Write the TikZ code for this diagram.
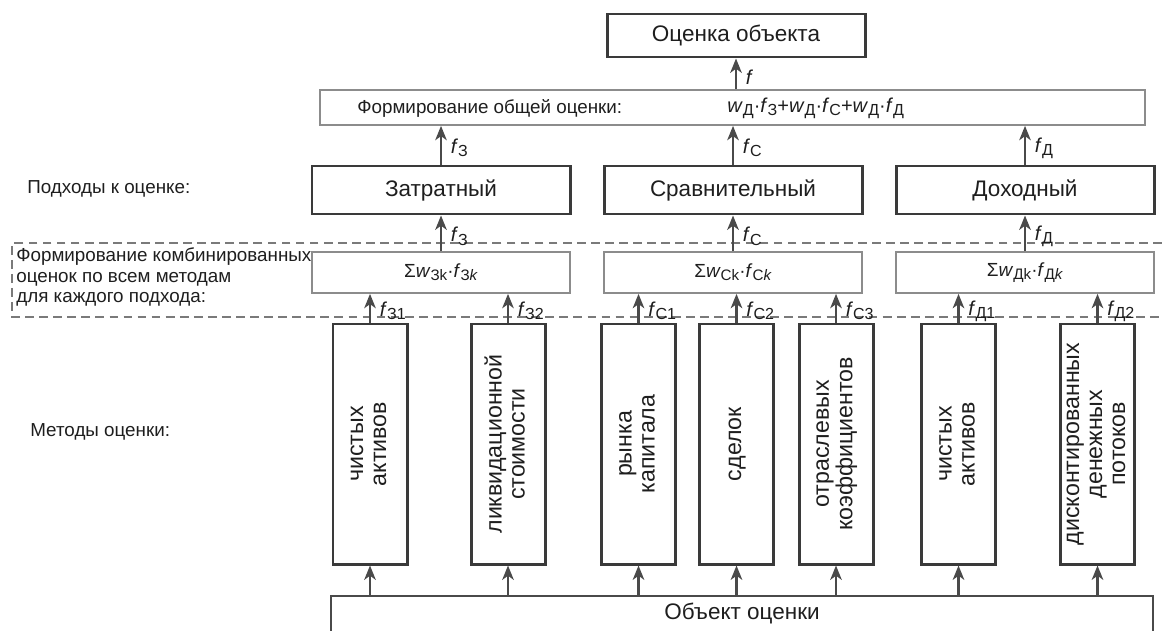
\documentclass[tikz,border=0pt]{standalone}
\usepackage{fontspec}
\setmainfont{Liberation Sans}
\usepackage{graphicx}
\usepackage{xcolor}
\usepackage{tikz}
\usetikzlibrary{arrows.meta,calc}
\definecolor{ink}{HTML}{1E1E1E}
\definecolor{frame}{HTML}{3A3A3A}
\definecolor{light}{HTML}{8C8C8C}
\definecolor{arrowc}{HTML}{4A4A4A}
\definecolor{zonec}{HTML}{7A7A7A}
\newcommand{\fv}[2]{\textit{#1}\raisebox{-0.3ex}{\scalebox{0.8}{#2}}}
\newcommand{\vtext}[1]{\rotatebox{90}{\begin{tabular}{@{}c@{}}#1\end{tabular}}}
\tikzset{
  every node/.style={text=ink},
  topbox/.style={draw=frame, line width=1.7pt, minimum width=51.6mm, minimum height=8.6mm, font=\fontsize{12.8pt}{14pt}\selectfont},
  formbox/.style={draw=light, line width=1pt, minimum width=165mm, minimum height=7mm},
  apbox/.style={topbox, minimum height=9.6mm},
  sumbox/.style={draw=light, line width=1pt, minimum width=51.6mm, minimum height=8.2mm, font=\fontsize{10.8pt}{13pt}\selectfont},
  methbox/.style={draw=frame, line width=1.7pt, minimum width=14.8mm, minimum height=48mm, inner sep=0pt, font=\fontsize{13.2pt}{13.1pt}\selectfont},
  objbox/.style={minimum width=164.4mm, minimum height=6mm, font=\fontsize{12.8pt}{14pt}\selectfont},
  objline/.style={draw=arrowc, line width=1pt},
  lab/.style={inner sep=0pt, font=\fontsize{10.7pt}{11.4pt}\selectfont},
  mathlab/.style={inner sep=0pt, font=\fontsize{11.4pt}{13pt}\selectfont},
  flab/.style={midway, anchor=west, inner sep=1pt, xshift=1.4mm, yshift=-0.6mm, font=\fontsize{11.4pt}{13pt}\selectfont},
  arr/.style={draw=arrowc, line width=1.2pt, -{Stealth[length=8.2pt, width=6.6pt, inset=2.4pt]}},
  zone/.style={draw=zonec, line width=0.75pt, dash pattern=on 5pt off 3pt}
}
\begin{document}
\begin{tikzpicture}[x=0.2mm, y=-0.2mm]
  \useasboundingbox (0,0) rectangle (1162,630);

  % result and overall weighting
  \node[topbox] (tot) at (736,35.5) {Оценка объекта};
  \node[formbox] (form) at (732.5,107.5) {};
  \node[lab, anchor=west] (formtxt) at (357,108) {Формирование общей оценки:};
  \node[mathlab, anchor=west] (formula) at (727,108)
    {\fv{w}{Д}·\fv{f}{З}+\fv{w}{Д}·\fv{f}{С}+\fv{w}{Д}·\fv{f}{Д}};

  % approaches
  \node[lab, anchor=west] (lap) at (27,189) {Подходы к оценке:};
  \node[apbox] (zat) at (441,190) {Затратный};
  \node[apbox] (srav) at (733,190) {Сравнительный};
  \node[apbox] (doh) at (1025,190) {Доходный};

  % combined estimates
  \draw[zone] (1162,243) -| (12,317) -- (1162,317);
  \node[lab, anchor=west, align=left] (lcomb) at (16,277)
    {Формирование комбинированных\\оценок по всем методам\\для каждого подхода:};
  \node[sumbox] (szat) at (441,272.5) {Σ\fv{w}{Зk}·\fv{f}{З\textit{k}}};
  \node[sumbox] (ssrav) at (733,272.5) {Σ\fv{w}{Сk}·\fv{f}{С\textit{k}}};
  \node[sumbox] (sdoh) at (1025,272.5) {Σ\fv{w}{Дk}·\fv{f}{Д\textit{k}}};

  % methods
  \node[lab, anchor=west] (lmeth) at (30,432) {Методы оценки:};
  \node[methbox] (m1) at (370,444) {\vtext{чистых\\активов}};
  \node[methbox] (m2) at (508,444) {\vtext{ликвидационной\\стоимости}};
  \node[methbox] (m3) at (638.5,444) {\vtext{рынка\\капитала}};
  \node[methbox] (m4) at (736.5,444) {\vtext{сделок}};
  \node[methbox] (m5) at (836,444) {\vtext{отраслевых\\коэффициентов}};
  \node[methbox] (m6) at (958.5,444) {\vtext{чистых\\активов}};
  \node[methbox] (m7) at (1097.5,444) {\vtext{дисконтированных\\денежных\\потоков}};

  % object
  \node[objbox] (obj) at (742,613) {Объект оценки};
  \draw[objline] ([yshift=-5mm]obj.south west) |- (obj.north east) -- ([yshift=-5mm]obj.south east);

  \foreach \m in {m1,m2,m3,m4,m5,m6,m7}
    \draw[arr] (\m.south |- obj.north) -- (\m.south);

  \draw[arr] (m1.north) -- (m1.north |- szat.south) node[flab] (l31) {\fv{f}{З1}};
  \draw[arr] (m2.north) -- (m2.north |- szat.south) node[flab] (l32) {\fv{f}{З2}};
  \draw[arr] (m3.north) -- (m3.north |- ssrav.south) node[flab] (lc1) {\fv{f}{С1}};
  \draw[arr] (m4.north) -- (m4.north |- ssrav.south) node[flab] (lc2) {\fv{f}{С2}};
  \draw[arr] (m5.north) -- (m5.north |- ssrav.south) node[flab] (lc3) {\fv{f}{С3}};
  \draw[arr] (m6.north) -- (m6.north |- sdoh.south) node[flab] (ld1) {\fv{f}{Д1}};
  \draw[arr] (m7.north) -- (m7.north |- sdoh.south) node[flab] (ld2) {\fv{f}{Д2}};

  \draw[arr] (szat.north) -- (zat.south) node[flab] (lz) {\fv{f}{З}};
  \draw[arr] (ssrav.north) -- (srav.south) node[flab] (lc) {\fv{f}{С}};
  \draw[arr] (sdoh.north) -- (doh.south) node[flab] (ld) {\fv{f}{Д}};

  \draw[arr] (zat.north) -- (zat.north |- form.south) node[flab] (lzz) {\fv{f}{З}};
  \draw[arr] (srav.north) -- (srav.north |- form.south) node[flab] (lcc) {\fv{f}{С}};
  \draw[arr] (doh.north) -- (doh.north |- form.south) node[flab] (ldd) {\fv{f}{Д}};

  \draw[arr] (tot.south |- form.north) -- (tot.south) node[flab] (lf) {\textit{f}};
\end{tikzpicture}
\end{document}
